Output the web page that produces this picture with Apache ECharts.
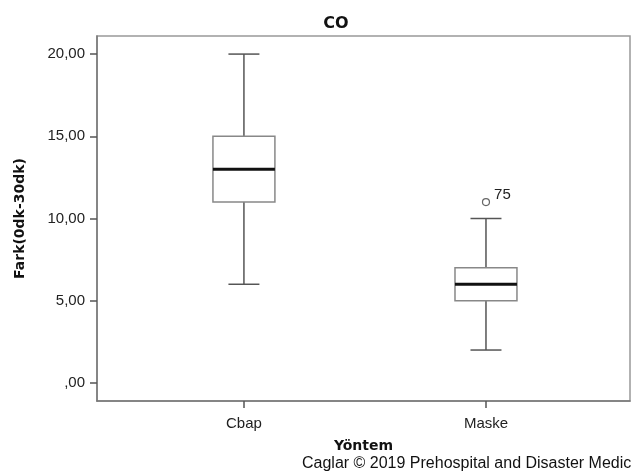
<!DOCTYPE html>
<html>
<head>
<meta charset="utf-8">
<script src="https://cdn.jsdelivr.net/npm/echarts@6/dist/echarts.min.js"></script>
<style>
  html, body { margin: 0; padding: 0; background: #fff; }
  #chart { width: 631px; height: 473px; }
</style>
</head>
<body>
<div id="chart"></div>
<script>
// groups on the x axis (positions 0 and 1)
const categories = ['Cbap', 'Maske']
// five-number summaries: [low whisker, Q1, median, Q3, high whisker]
const cbapStats = [6, 11, 13, 15, 20]
const maskeStats = [2, 5, 6, 7, 10]
// outliers: [group index, value, case label]
const outliers = [[1, 11, '75']]
const yTicks = [0, 5, 10, 15, 20]

const boxData = [cbapStats, maskeStats].map((s, i) => [i, ...s])

const chart = echarts.init(document.getElementById('chart'))

// 箱体和须线用 custom series 画，便于控制宽度
function renderBox(params, api) {
  const x = api.value(0)
  const pLow = api.coord([x, api.value(1)])
  const pQ1 = api.coord([x, api.value(2)])
  const pMed = api.coord([x, api.value(3)])
  const pQ3 = api.coord([x, api.value(4)])
  const pHigh = api.coord([x, api.value(5)])
  const unit = api.size([1, 0])[0]
  const half = unit * 0.128
  const cap = unit * 0.064
  const cx = pMed[0]
  const whisker = { stroke: '#555', lineWidth: 1.5 }
  return {
    type: 'group',
    children: [
      { type: 'line', shape: { x1: cx, y1: pHigh[1], x2: cx, y2: pQ3[1] }, style: whisker },
      { type: 'line', shape: { x1: cx, y1: pLow[1], x2: cx, y2: pQ1[1] }, style: whisker },
      { type: 'line', shape: { x1: cx - cap, y1: pHigh[1], x2: cx + cap, y2: pHigh[1] }, style: whisker },
      { type: 'line', shape: { x1: cx - cap, y1: pLow[1], x2: cx + cap, y2: pLow[1] }, style: whisker },
      {
        type: 'rect',
        shape: { x: cx - half, y: pQ3[1], width: half * 2, height: pQ1[1] - pQ3[1] },
        style: { fill: '#fff', stroke: '#888', lineWidth: 1.5 }
      },
      {
        type: 'line',
        shape: { x1: cx - half, y1: pMed[1], x2: cx + half, y2: pMed[1] },
        style: { stroke: '#111', lineWidth: 3 }
      }
    ]
  }
}

const option = {
  backgroundColor: '#fff',
  animation: false,
  title: {
    text: 'CO',
    left: 331,
    top: 11,
    textAlign: 'center',
    textStyle: { fontFamily: 'DejaVu Sans', fontWeight: 'bold', fontSize: 16, color: '#111' }
  },
  grid: {
    left: 97,
    top: 36,
    right: 1,
    bottom: 72,
    show: true,
    borderColor: '#999',
    borderWidth: 1.5
  },
  xAxis: {
    type: 'value',
    min: -0.607,
    max: 1.595,
    name: 'Yöntem',
    nameLocation: 'middle',
    nameGap: 38,
    nameTextStyle: { fontFamily: 'DejaVu Sans', fontWeight: 'bold', fontSize: 14, color: '#111' },
    axisLine: { show: true, onZero: false, lineStyle: { color: '#777', width: 1.5 } },
    axisTick: { show: true, customValues: [0, 1], length: 7, lineStyle: { color: '#555', width: 1.5 } },
    axisLabel: {
      customValues: [0, 1],
      formatter: (v) => categories[Math.round(v)],
      margin: 15,
      fontFamily: 'Liberation Sans',
      fontSize: 15,
      color: '#222'
    },
    splitLine: { show: false }
  },
  yAxis: {
    type: 'value',
    min: -1.1,
    max: 21.1,
    name: 'Fark(0dk-30dk)',
    nameLocation: 'middle',
    nameGap: 70,
    nameTextStyle: { fontFamily: 'DejaVu Sans', fontWeight: 'bold', fontSize: 14, color: '#111' },
    axisLine: { show: true, onZero: false, lineStyle: { color: '#777', width: 1.5 } },
    axisTick: { show: true, customValues: yTicks, length: 7, lineStyle: { color: '#555', width: 1.5 } },
    axisLabel: {
      customValues: yTicks,
      formatter: (v) => (v === 0 ? ',00' : v.toFixed(2).replace('.', ',')),
      margin: 12,
      fontFamily: 'Liberation Sans',
      fontSize: 15,
      color: '#222'
    },
    splitLine: { show: false }
  },
  graphic: [
    {
      type: 'text',
      left: 302,
      top: 456,
      style: {
        text: 'Caglar © 2019 Prehospital and Disaster Medicine',
        fontFamily: 'Liberation Sans',
        fontSize: 16,
        fill: '#111'
      }
    }
  ],
  series: [
    {
      type: 'custom',
      renderItem: renderBox,
      data: boxData,
      encode: { x: 0, y: [1, 2, 3, 4, 5] }
    },
    {
      type: 'scatter',
      data: outliers.map((o) => [o[0], o[1], o[2]]),
      symbol: 'circle',
      symbolSize: 7,
      itemStyle: { color: '#fff', borderColor: '#666', borderWidth: 1.2, opacity: 1 },
      label: {
        show: true,
        formatter: (p) => p.value[2],
        position: 'right',
        offset: [-1, -7],
        fontFamily: 'Liberation Sans',
        fontSize: 15,
        color: '#222'
      }
    }
  ]
}

chart.setOption(option)
</script>
</body>
</html>
